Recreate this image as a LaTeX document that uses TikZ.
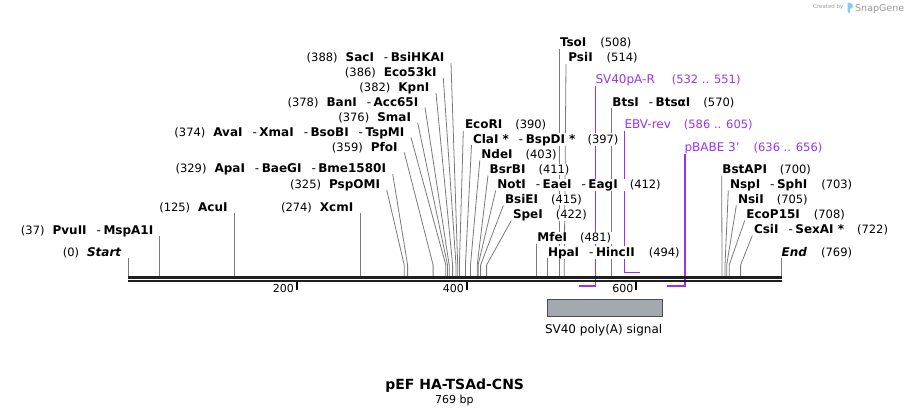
\documentclass[tikz,border=0pt]{standalone}
\usepackage{fontspec}
\setmainfont{DejaVu Sans}
\pgfdeclarelayer{bg}
\pgfsetlayers{bg,main}
\definecolor{prim}{HTML}{9A32F0}
\definecolor{lead}{HTML}{7A7A7A}
\definecolor{featfill}{HTML}{A4A9B0}
\definecolor{logoblue}{HTML}{8CCBF0}
\tikzset{
  lab/.style={inner xsep=0.5pt, inner ysep=0.5pt, fill=white, font=\fontsize{12}{14}\selectfont},
  plab/.style={inner sep=0pt, font=\fontsize{12}{14}\selectfont, text=prim},
  leader/.style={draw=lead, line width=0.8pt},
  primline/.style={draw=prim, line width=1.6pt},
  bbline/.style={draw=black!88},
  tickmark/.style={draw=black, line width=2pt},
  ticklab/.style={inner sep=0pt, font=\fontsize{11}{13}\selectfont},
}
\newcommand\nm[1]{\textbf{#1}}
\newcommand\ps[1]{{\fontsize{11.5}{13}\selectfont(#1)}}
\newcommand\dsh{\hspace{10pt}-\hspace{2.5pt}}
% left label with straight vertical leader: name, site x, label right x, label y, text
\newcommand\LVsite[5]{%
  \node[lab, anchor=base east] (L#1) at (#3,#4+4.3) {#5};
  \coordinate (T#1) at (#2,#4+6);
  \coordinate (S#1) at (#2,276);
  \begin{pgfonlayer}{bg}\draw[leader] (T#1) -- (S#1);\end{pgfonlayer}}
% left label with bent leader
\newcommand\LKsite[5]{%
  \node[lab, anchor=base east] (L#1) at (#3,#4+4.3) {#5};
  \coordinate (T#1) at (#3+6,#4+5.8);
  \coordinate (K#1) at (#2,265);
  \coordinate (S#1) at (#2,276);
  \begin{pgfonlayer}{bg}\draw[leader] (T#1) -- (K#1) -- (S#1);\end{pgfonlayer}}
% right label: name, site x, label left x, label y, text, top x
\newcommand\Rsite[6]{%
  \node[lab, anchor=base west] (L#1) at (#3,#4+4.3) {#5};
  \coordinate (T#1) at (#6,#4+6.5);
  \coordinate (K#1) at (#2,265);
  \coordinate (S#1) at (#2,276);
  \begin{pgfonlayer}{bg}\draw[leader] (T#1) -- (K#1) -- (S#1);\end{pgfonlayer}}
\begin{document}
\begin{tikzpicture}[x=1pt,y=-1pt]
\useasboundingbox (0,0) rectangle (910,415);

% backbone
\coordinate (bbA) at (128.3,277.3);
\coordinate (bbB) at (781.7,277.3);
\coordinate (bbC) at (128.3,281.2);
\coordinate (bbD) at (781.7,281.2);
\draw[bbline, line width=2.7pt] (bbA) -- (bbB);
\draw[bbline, line width=2.3pt] (bbC) -- (bbD);

% ticks
\draw[tickmark] (296.7,282) -- (296.7,289.5);
\draw[tickmark] (466.7,282) -- (466.7,289.5);
\draw[tickmark] (636.2,282) -- (636.2,289.5);
\node[ticklab, anchor=base east] (t200) at (294,292.5) {200};
\node[ticklab, anchor=base east] (t400) at (464,292.5) {400};
\node[ticklab, anchor=base east] (t600) at (633.5,292.5) {600};

% left-side sites
\LVsite{start}{128.3}{122.3}{251.7}{\ps{0}\hspace{8pt}\textbf{\textit{Start}}}
\LVsite{pvu}{159.4}{154}{230}{\ps{37}\hspace{8pt}\nm{PvuII}\dsh\nm{MspA1I}}
\LVsite{acu}{234.3}{228.3}{207.3}{\ps{125}\hspace{8pt}\nm{AcuI}}
\LVsite{xcm}{360.5}{354}{207.3}{\ps{274}\hspace{8pt}\nm{XcmI}}
\LKsite{psp}{404.2}{380.7}{184}{\ps{325}\hspace{8pt}\nm{PspOMI}}
\LKsite{apa}{407.6}{386.7}{168.3}{\ps{329}\hspace{8pt}\nm{ApaI}\dsh\nm{BaeGI}\dsh\nm{Bme1580I}}
\LKsite{pfo}{433.1}{398.3}{146.7}{\ps{359}\hspace{8pt}\nm{PfoI}}
\LKsite{ava}{445.8}{405}{131.7}{\ps{374}\hspace{8pt}\nm{AvaI}\dsh\nm{XmaI}\dsh\nm{BsoBI}\dsh\nm{TspMI}}
\LKsite{sma}{447.5}{411.7}{117}{\ps{376}\hspace{8pt}\nm{SmaI}}
\LKsite{ban}{449.2}{419}{101.7}{\ps{378}\hspace{8pt}\nm{BanI}\dsh\nm{Acc65I}}
\LKsite{kpn}{452.6}{430}{87.3}{\ps{382}\hspace{8pt}\nm{KpnI}}
\LKsite{eco53}{456.0}{437.3}{72.3}{\ps{386}\hspace{8pt}\nm{Eco53kI}}
\LKsite{sac}{457.7}{445}{57.3}{\ps{388}\hspace{8pt}\nm{SacI}\dsh\nm{BsiHKAI}}

% right-side sites
\Rsite{ecori}{459.4}{464.3}{124.3}{\nm{EcoRI}\hspace{13pt}\ps{390}}{463.3}
\Rsite{cla}{465.4}{472.3}{138.7}{\nm{ClaI *}\dsh\nm{BspDI *}\hspace{12pt}\ps{397}}{471.5}
\Rsite{nde}{470.5}{480.7}{154}{\nm{NdeI}\hspace{13pt}\ps{403}}{479.8}
\Rsite{bsrb}{477.2}{489}{169}{\nm{BsrBI}\hspace{13pt}\ps{411}}{488}
\Rsite{not}{478.1}{496.7}{184}{\nm{NotI}\dsh\nm{EaeI}\dsh\nm{EagI}\hspace{12pt}\ps{412}}{495.7}
\Rsite{bsie}{480.6}{504.3}{199}{\nm{BsiEI}\hspace{13pt}\ps{415}}{503.3}
\Rsite{spe}{486.6}{512.3}{214}{\nm{SpeI}\hspace{13pt}\ps{422}}{511.3}
\Rsite{mfe}{536.7}{536.7}{237.3}{\nm{MfeI}\hspace{13pt}\ps{481}}{536.7}
\Rsite{hpa}{547.3}{547.3}{251.7}{\nm{HpaI}\dsh\nm{HincII}\hspace{14pt}\ps{494}}{547.3}
\Rsite{tso}{559.3}{559.3}{42.3}{\nm{TsoI}\hspace{14pt}\ps{508}}{559.3}
\Rsite{psi}{564.3}{567.7}{57.3}{\nm{PsiI}\hspace{14pt}\ps{514}}{566}
\Rsite{bts}{611.7}{611.7}{101.7}{\nm{BtsI}\dsh\nm{BtsαI}\hspace{13pt}\ps{570}}{611.7}
\Rsite{bstap}{722}{721.7}{169}{\nm{BstAPI}\hspace{13pt}\ps{700}}{721.7}
\Rsite{nsp}{725}{729.3}{184}{\nm{NspI}\dsh\nm{SphI}\hspace{14pt}\ps{703}}{728.3}
\Rsite{nsi}{726.7}{737.3}{199}{\nm{NsiI}\hspace{13pt}\ps{705}}{736.3}
\Rsite{ecop}{729.2}{745.7}{214}{\nm{EcoP15I}\hspace{14pt}\ps{708}}{744.7}
\Rsite{csi}{740.6}{753.3}{229}{\nm{CsiI}\dsh\nm{SexAI *}\hspace{13pt}\ps{722}}{752.3}
\Rsite{end}{781.3}{781}{251.7}{\textbf{\textit{End}}\hspace{14pt}\ps{769}}{781.3}

% primers
\node[plab, anchor=base west] (pSV) at (595.3,83.6) {SV40pA-R\hspace{17pt}{\fontsize{11.5}{13}\selectfont(532 .. 551)}};
\coordinate (pSVt) at (595.3,85.5);
\coordinate (pSVb) at (595.3,286);
\coordinate (pSVe) at (579.3,286);
\begin{pgfonlayer}{bg}\draw[primline] (pSVt) -- (pSVb) -- (pSVe);\end{pgfonlayer}

\node[plab, anchor=base west] (pEBV) at (624.3,128.6) {EBV-rev\hspace{13pt}{\fontsize{11.5}{13}\selectfont(586 .. 605)}};
\coordinate (pEBVt) at (624.3,130.5);
\coordinate (pEBVb) at (624.3,272.5);
\coordinate (pEBVe) at (639.5,272.5);
\begin{pgfonlayer}{bg}\draw[primline] (pEBVt) -- (pEBVb) -- (pEBVe);\end{pgfonlayer}

\node[plab, anchor=base west] (pBB) at (684.3,151.6) {pBABE 3'\hspace{14pt}{\fontsize{11.5}{13}\selectfont(636 .. 656)}};
\coordinate (pBBt) at (684.7,153.5);
\coordinate (pBBb) at (684.7,286);
\coordinate (pBBe) at (667.3,286);
\begin{pgfonlayer}{bg}\draw[primline] (pBBt) -- (pBBb) -- (pBBe);\end{pgfonlayer}

% feature
\node[draw=black!70, line width=0.8pt, fill=featfill, inner sep=0pt, minimum width=114.4pt, minimum height=16.7pt, anchor=north west] (feat) at (547.3,299) {};
\node[inner sep=0pt, font=\fontsize{12}{14}\selectfont, anchor=base] (featlab) at (603.6,333.3) {SV40 poly(A) signal};

% title
\node[inner sep=0pt, font=\fontsize{14}{16}\selectfont\bfseries, anchor=base] (title) at (454.7,389.4) {pEF HA-TSAd-CNS};
\node[inner sep=0pt, font=\fontsize{11}{13}\selectfont, anchor=base] (bplen) at (454.3,403) {769 bp};

% watermark
\node[inner sep=0pt, font=\fontsize{5.5}{7}\selectfont, text=black!38, anchor=base west] (cby) at (813,9) {Created by};
\fill[logoblue, rounded corners=1pt] (847.5,2.5) rectangle (850,13);
\fill[logoblue] (850,2.5) .. controls (854,2.5) and (854,9) .. (850,9) -- cycle;
\node[inner sep=0pt, font=\fontsize{9.5}{11}\selectfont, text=black!40, anchor=base west] (sg) at (855,11) {SnapGene};
\end{tikzpicture}
\end{document}
